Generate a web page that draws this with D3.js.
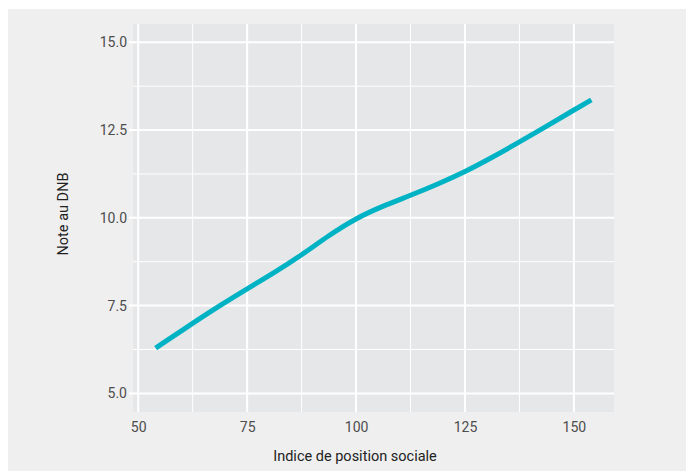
<!DOCTYPE html>
<html>
<head>
<meta charset="utf-8">
<script src="https://cdn.jsdelivr.net/npm/d3@7"></script>
<style>
  html, body { margin: 0; padding: 0; background: #ffffff; }
  svg { display: block; font-family: Roboto, "Noto Sans", sans-serif; }
</style>
</head>
<body>
<svg id="chart" width="686" height="472"></svg>
<script>
// Data
const ipsValues = [54, 62.5, 68.75, 75, 81.25, 87.5, 93.75, 100, 106.25, 112.5, 118.75, 125, 131.25, 137.5, 143.75, 150, 154];
const dnbValues = [6.29, 7.0, 7.5, 7.98, 8.44, 8.94, 9.5, 9.99, 10.34, 10.64, 10.96, 11.31, 11.72, 12.16, 12.61, 13.07, 13.36];
const xTicks = [50, 75, 100, 125, 150];
const xMinor = [62.5, 87.5, 112.5, 137.5];
const yTicks = [5.0, 7.5, 10.0, 12.5, 15.0];
const yMinor = [6.25, 8.75, 11.25, 13.75];
const xTitle = "Indice de position sociale";
const yTitle = "Note au DNB";

const data = ipsValues.map((x, i) => ({ x, y: dnbValues[i] }));

const svg = d3.select("#chart");
const W = 686, H = 472;
const panel = { left: 133, right: 614, top: 24, bottom: 412 };

// outer background
svg.append("rect").attr("x", 8).attr("y", 9).attr("width", W - 8).attr("height", H - 10)
  .attr("fill", "#efefef");

const x = d3.scaleLinear().domain([48.8, 159.2]).range([panel.left, panel.right]);
const y = d3.scaleLinear().domain([4.47, 15.52]).range([panel.bottom, panel.top]);

// panel
svg.append("rect")
  .attr("x", panel.left).attr("y", panel.top)
  .attr("width", panel.right - panel.left).attr("height", panel.bottom - panel.top)
  .attr("fill", "#e6e7e9");

const g = svg.append("g");
// minor grid
g.selectAll("line.xminor").data(xMinor).join("line")
  .attr("class", "xminor")
  .attr("x1", d => x(d)).attr("x2", d => x(d))
  .attr("y1", panel.top).attr("y2", panel.bottom)
  .attr("stroke", "#ffffff").attr("stroke-width", 1);
g.selectAll("line.yminor").data(yMinor).join("line")
  .attr("class", "yminor")
  .attr("y1", d => y(d)).attr("y2", d => y(d))
  .attr("x1", panel.left).attr("x2", panel.right)
  .attr("stroke", "#ffffff").attr("stroke-width", 1);

// major grid
g.selectAll("line.xmajor").data(xTicks).join("line")
  .attr("class", "xmajor")
  .attr("x1", d => x(d)).attr("x2", d => x(d))
  .attr("y1", panel.top).attr("y2", panel.bottom)
  .attr("stroke", "#ffffff").attr("stroke-width", 2);
g.selectAll("line.ymajor").data(yTicks).join("line")
  .attr("class", "ymajor")
  .attr("y1", d => y(d)).attr("y2", d => y(d))
  .attr("x1", panel.left - 4).attr("x2", panel.right)
  .attr("stroke", "#ffffff").attr("stroke-width", 2);

// axes (labels only)
const xAxis = d3.axisBottom(x).tickValues(xTicks).tickSize(0).tickPadding(10).tickFormat(d3.format("d"));
const gx = svg.append("g").attr("transform", `translate(0,${panel.bottom})`).call(xAxis);
gx.select(".domain").remove();
gx.selectAll("text").attr("font-size", 14).attr("fill", "#4d4d4d").attr("font-family", "Roboto");

const yAxis = d3.axisLeft(y).tickValues(yTicks).tickSize(0).tickPadding(5).tickFormat(d3.format(".1f"));
const gy = svg.append("g").attr("transform", `translate(${panel.left - 1},0)`).call(yAxis);
gy.select(".domain").remove();
gy.selectAll("text").attr("font-size", 14).attr("fill", "#4d4d4d").attr("font-family", "Roboto");

// line
const line = d3.line().x(d => x(d.x)).y(d => y(d.y)).curve(d3.curveBasis);
svg.append("path").datum(data)
  .attr("d", line)
  .attr("fill", "none")
  .attr("stroke", "#00b3c4")
  .attr("stroke-width", 5);

// titles
svg.append("text")
  .attr("x", 355).attr("y", 461)
  .attr("text-anchor", "middle")
  .attr("font-size", 14.5).attr("fill", "#222")
  .text(xTitle);

svg.append("text")
  .attr("transform", `translate(68,214) rotate(-90)`)
  .attr("text-anchor", "middle")
  .attr("font-size", 14.5).attr("fill", "#222")
  .text(yTitle);
</script>
</body>
</html>
